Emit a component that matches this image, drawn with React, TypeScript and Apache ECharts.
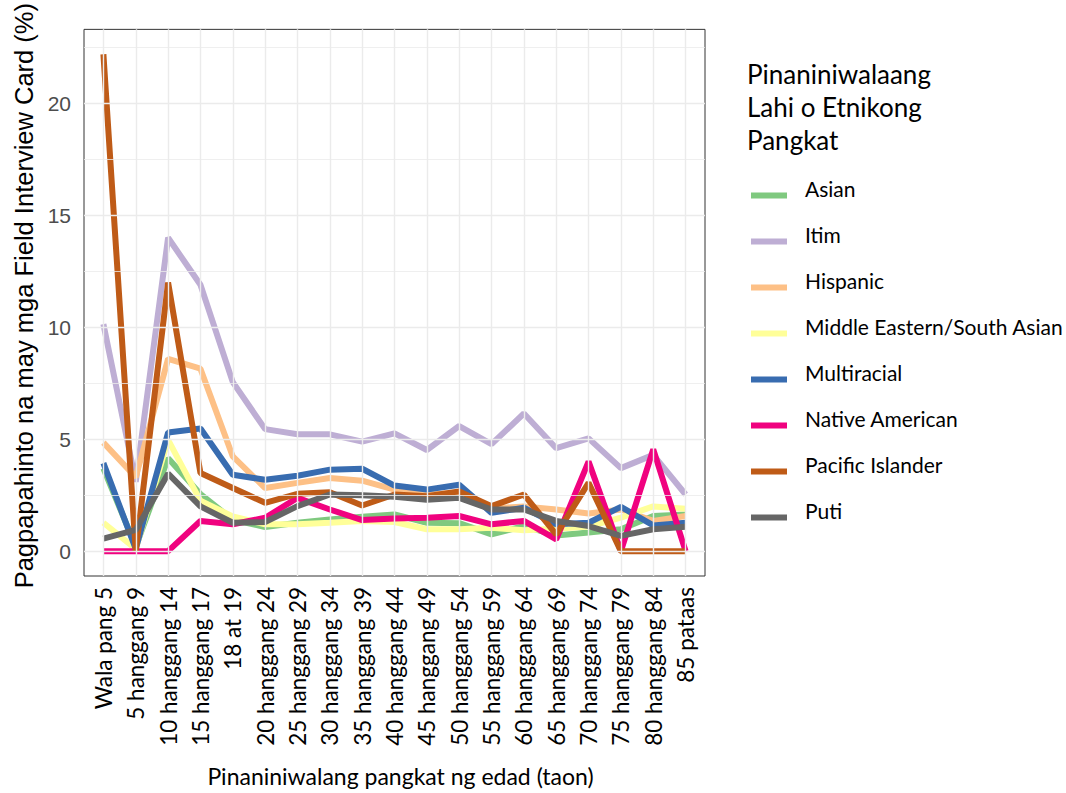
import React, { useEffect, useRef } from "react";
import * as echarts from "echarts";

const categories = [
  "Wala pang 5", "5 hanggang 9", "10 hanggang 14", "15 hanggang 17", "18 at 19",
  "20 hanggang 24", "25 hanggang 29", "30 hanggang 34", "35 hanggang 39", "40 hanggang 44",
  "45 hanggang 49", "50 hanggang 54", "55 hanggang 59", "60 hanggang 64", "65 hanggang 69",
  "70 hanggang 74", "75 hanggang 79", "80 hanggang 84", "85 pataas",
];

const asian = [3.7, 0.2, 4.15, 2.55, 1.4, 1.08, 1.27, 1.42, 1.54, 1.64, 1.27, 1.25, 0.75, 1.12, 0.7, 0.83, 0.98, 1.57, 1.64];
const itim = [10.14, 3.1, 14.0, 11.9, 7.55, 5.45, 5.22, 5.22, 4.89, 5.26, 4.52, 5.59, 4.78, 6.15, 4.6, 5.04, 3.71, 4.3, 2.53];
const hispanic = [4.85, 3.3, 8.59, 8.15, 4.23, 2.82, 3.05, 3.27, 3.15, 2.75, 2.55, 2.6, 1.9, 2.0, 1.86, 1.68, 1.86, 1.35, 1.57];
const mesa = [1.27, 0.1, 4.97, 2.25, 1.55, 1.2, 1.2, 1.27, 1.35, 1.3, 0.98, 0.98, 1.05, 0.93, 1.0, 1.1, 1.5, 2.0, 1.89];
const multiracial = [3.93, 0.1, 5.3, 5.48, 3.41, 3.19, 3.37, 3.64, 3.68, 2.93, 2.75, 2.97, 1.71, 1.94, 1.2, 1.27, 1.98, 1.15, 1.27];
const nativeAmerican = [0, 0, 0, 1.35, 1.2, 1.49, 2.38, 1.86, 1.39, 1.46, 1.49, 1.57, 1.2, 1.35, 0.53, 4.0, 0, 4.55, 0];
const pacificIslander = [22.2, 0, 12.0, 3.49, 2.82, 2.16, 2.56, 2.63, 2.04, 2.53, 2.45, 2.67, 2.01, 2.53, 0.75, 3.05, 0, 0, 0];
const puti = [0.56, 0.95, 3.46, 2.0, 1.27, 1.3, 2.01, 2.53, 2.5, 2.43, 2.3, 2.38, 1.86, 1.86, 1.35, 1.12, 0.68, 0.98, 1.09];

const yTicks = [0, 5, 10, 15, 20];
const yMinor = [2.5, 7.5, 12.5, 17.5, 22.5];

const seriesNames = [
  "Asian", "Itim", "Hispanic", "Middle Eastern/South Asian",
  "Multiracial", "Native American", "Pacific Islander", "Puti",
];
const seriesValues = [asian, itim, hispanic, mesa, multiracial, nativeAmerican, pacificIslander, puti];
const seriesColors = ["#7FC97F", "#BEAED4", "#FDC086", "#FFFF99", "#386CB0", "#F0027F", "#BF5B17", "#666666"];

export default function App() {
  const ref = useRef<HTMLDivElement>(null);

  useEffect(() => {
    const chart = echarts.init(ref.current!, null, { renderer: "svg" });
    const catIdx = categories.map((_, i) => i);

    const gridLines: any[] = [
      ...yTicks.map((v) => ({ yAxis: v, lineStyle: { width: 1.4 } })),
      ...yMinor.map((v) => ({ yAxis: v, lineStyle: { width: 0.8 } })),
      ...catIdx.map((v) => ({ xAxis: v, lineStyle: { width: 1.4 } })),
    ];

    const dataSeries = seriesNames.map((name, k) => ({
      name,
      type: "line",
      data: seriesValues[k].map((v, i) => [i, v]),
      symbol: "none",
      showSymbol: false,
      z: 3,
      color: seriesColors[k],
      lineStyle: { color: seriesColors[k], width: 6 },
      emphasis: { disabled: true },
    }));

    chart.setOption({
      animation: false,
      backgroundColor: "#ffffff",
      title: {
        text: "Pinaniniwalaang\nLahi o Etnikong\nPangkat",
        left: 747,
        top: 57,
        padding: 0,
        textStyle: {
          fontFamily: "Lato",
          fontSize: 26,
          fontWeight: "normal",
          color: "#000",
          lineHeight: 33,
        },
      },
      legend: {
        data: seriesNames,
        orient: "vertical",
        left: 751,
        top: 178,
        padding: 0,
        icon: "rect",
        itemWidth: 36,
        itemHeight: 6,
        itemGap: 11,
        formatter: (name: string) => `{t|${name}}`,
        textStyle: {
          fontFamily: "Lato",
          fontSize: 21,
          color: "#000",
          rich: {
            t: {
              fontFamily: "Lato",
              fontSize: 21,
              color: "#000",
              lineHeight: 22,
              padding: [0, 0, 14, 13],
            },
          },
        },
      },
      grid: {
        left: 84,
        top: 26,
        width: 621,
        height: 550,
        show: true,
        borderColor: "#333333",
        borderWidth: 1,
        backgroundColor: "#ffffff",
      },
      xAxis: {
        type: "value",
        min: -0.6,
        max: 18.6,
        axisLine: { show: false },
        splitLine: { show: false },
        axisTick: {
          customValues: catIdx,
          length: 4,
          lineStyle: { color: "#333333", width: 1 },
        },
        axisLabel: {
          customValues: catIdx,
          formatter: (v: number) => categories[Math.round(v)] ?? "",
          rotate: 90,
          margin: 11,
          fontFamily: "Lato",
          fontSize: 22.5,
          color: "#000",
        },
        name: "Pinaniniwalang pangkat ng edad (taon)",
        nameLocation: "middle",
        nameGap: 188,
        nameTextStyle: {
          fontFamily: "Lato",
          fontSize: 23,
          color: "#000",
          padding: [0, 0, 0, 12],
        },
      },
      yAxis: {
        type: "value",
        min: -1.11,
        max: 23.31,
        axisLine: { show: false },
        splitLine: { show: false },
        axisTick: {
          show: true,
          customValues: yTicks,
          length: 4,
          lineStyle: { color: "#333333", width: 1 },
        },
        axisLabel: {
          customValues: yTicks,
          margin: 13,
          fontFamily: "Liberation Sans",
          fontSize: 21,
          color: "#4d4d4d",
        },
        name: "Pagpapahinto na may mga Field Interview Card (%)",
        nameLocation: "middle",
        nameGap: 43,
        nameTextStyle: {
          fontFamily: "Liberation Sans",
          fontSize: 25.5,
          color: "#000",
          padding: [0, 0, 0, 14],
        },
      },
      series: [
        {
          name: "__grid",
          type: "line",
          data: [],
          z: 1,
          silent: true,
          markLine: {
            silent: true,
            symbol: "none",
            animation: false,
            label: { show: false },
            lineStyle: { color: "#ebebeb", type: "solid" },
            emphasis: { disabled: true },
            data: gridLines,
          },
        },
        ...dataSeries,
      ],
    });

    return () => chart.dispose();
  }, []);

  return (
    <div
      ref={ref}
      style={{ position: "fixed", left: 0, top: 0, width: 1066, height: 793, background: "#fff" }}
    />
  );
}
